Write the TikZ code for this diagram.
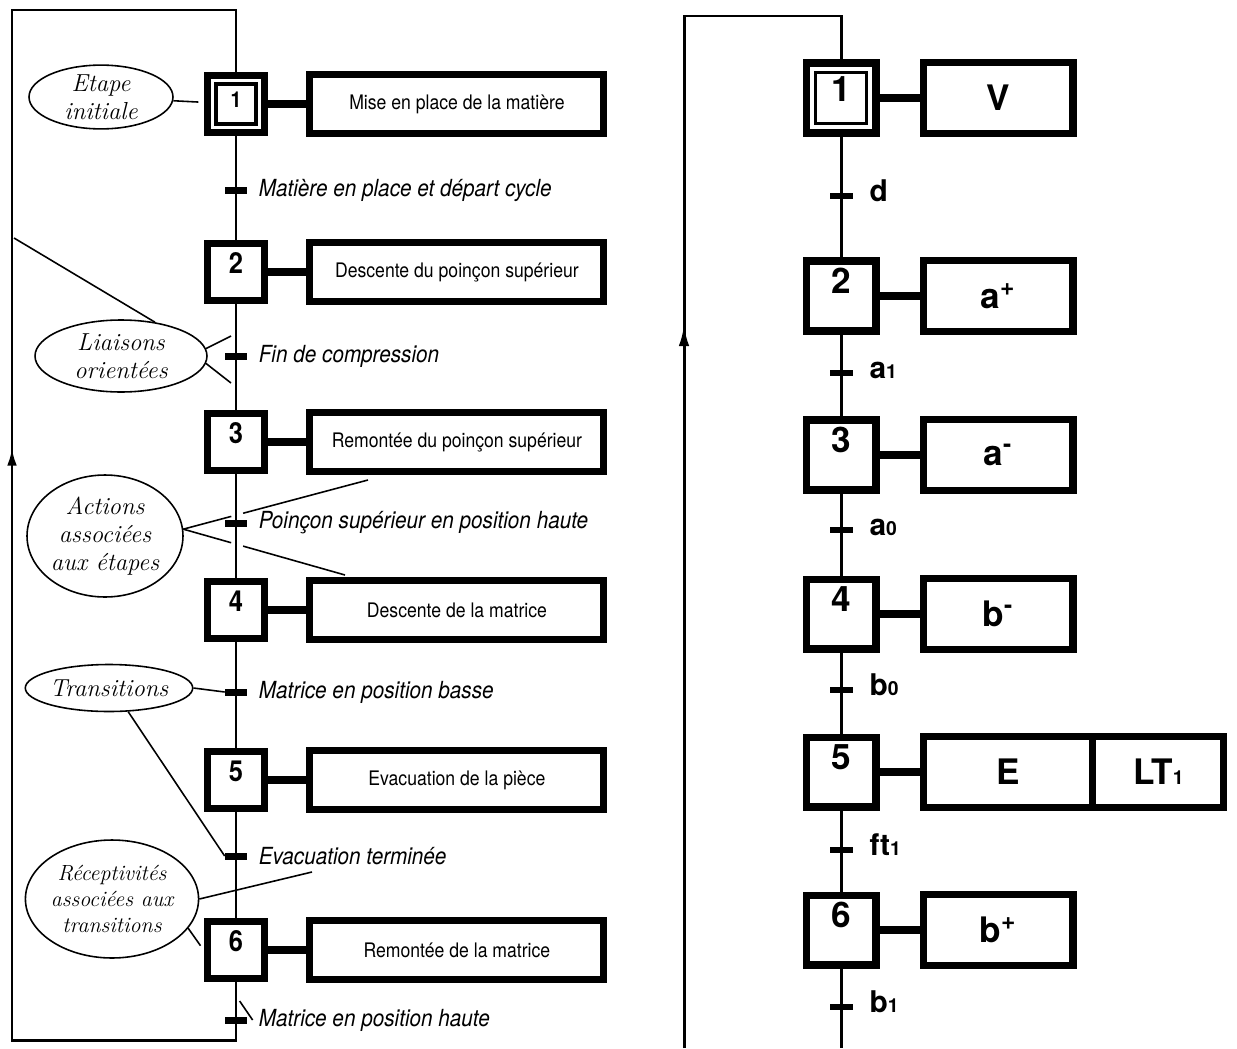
\documentclass[tikz,border=0pt]{standalone}
\usepackage{fontspec}
\newfontfamily\herosFont{TeX Gyre Heros}
\newfontfamily\condFont[FakeStretch=0.88]{TeX Gyre Heros}
\usetikzlibrary{shapes.geometric, arrows.meta, positioning, calc}
\newcommand{\idx}[1]{{\fontsize{11}{11}\selectfont #1}}

\begin{document}
\begin{tikzpicture}[
    x=0.02cm, y=-0.02cm,
    linkLine/.style={line width=1.7pt},
    stepLink/.style={line width=4pt},
    noteLine/.style={line width=0.9pt},
    stepBox/.style={draw, fill=white, line width=4.5pt, minimum width=1.14cm, minimum height=1.14cm, inner sep=2pt, text height=0.4cm, text depth=0.34cm, font=\condFont\bfseries\fontsize{16.5}{16.5}\selectfont},
    initInner/.style={draw, line width=2.8pt, minimum width=0.8cm, minimum height=0.8cm, inner sep=0pt},
    actionBox/.style={draw, fill=white, line width=4pt, minimum width=5.88cm, minimum height=1.18cm, align=center, font=\condFont\fontsize{11.4}{13}\selectfont},
    tickMark/.style={fill, rectangle, minimum width=0.44cm, minimum height=0.14cm, inner sep=0pt},
    recLabel/.style={anchor=west, font=\condFont\itshape\fontsize{13.4}{15}\selectfont},
    noteEllipse/.style={draw, ellipse, line width=0.9pt, inner sep=0pt, align=center, font=\itshape\fontsize{14}{16}\selectfont},
    rStepBox/.style={draw, fill=white, line width=4pt, minimum width=1.4cm, minimum height=1.4cm, inner sep=2pt, text height=0.5cm, text depth=0.6cm, font=\herosFont\bfseries\fontsize{20}{20}\selectfont},
    rInitInner/.style={draw, line width=1.7pt, minimum width=1.02cm, minimum height=1.02cm, inner sep=0pt},
    rActionBox/.style={draw, fill=white, line width=4pt, minimum width=3cm, minimum height=1.42cm, font=\herosFont\bfseries\fontsize{20}{22}\selectfont},
    rTickMark/.style={fill, rectangle, minimum width=0.46cm, minimum height=0.11cm, inner sep=0pt},
    rVarLabel/.style={anchor=west, text height=0.2cm, text depth=0pt, font=\herosFont\bfseries\fontsize{17}{17}\selectfont}
]
\useasboundingbox (0,0) rectangle (1237,1048);

% ---------- Left: literal GRAFCET ----------
% Steps and actions
\node[stepBox, text height=0.3cm, text depth=0.18cm, font=\condFont\bfseries\fontsize{12.5}{12.5}\selectfont] (s1) at (236,104) {1};
\node[initInner] (s1in) at (s1) {};
\node[actionBox, right=0.76cm of s1] (a1) {Mise en place de la matière};
\node[stepBox] (s2) at (236,272) {2};
\node[actionBox, right=0.76cm of s2] (a2) {Descente du poinçon supérieur};
\node[stepBox] (s3) at (236,442) {3};
\node[actionBox, right=0.76cm of s3] (a3) {Remontée du poinçon supérieur};
\node[stepBox] (s4) at (236,610) {4};
\node[actionBox, right=0.76cm of s4] (a4) {Descente de la matrice};
\node[stepBox] (s5) at (236,780) {5};
\node[actionBox, right=0.76cm of s5] (a5) {Evacuation de la pièce};
\node[stepBox] (s6) at (236,950) {6};
\node[actionBox, right=0.76cm of s6] (a6) {Remontée de la matrice};

\draw[stepLink] (s1) -- (a1);
\draw[stepLink] (s2) -- (a2);
\draw[stepLink] (s3) -- (a3);
\draw[stepLink] (s4) -- (a4);
\draw[stepLink] (s5) -- (a5);
\draw[stepLink] (s6) -- (a6);

% Oriented links
\draw[linkLine] (s1) -- (s2);
\draw[linkLine] (s2) -- (s3);
\draw[linkLine] (s3) -- (s4);
\draw[linkLine] (s4) -- (s5);
\draw[linkLine] (s5) -- (s6);
\coordinate (loopTL) at (12,10);
\coordinate (loopBL) at (12,1040);
\coordinate (loopArrow) at (12,448);
\draw[linkLine] (s1.north) |- (loopTL) -- (loopBL) -| (s6.south);
\draw[linkLine, -{Latex[length=10pt, width=5.5pt]}] (loopBL) -- (loopArrow);

% Transitions and receptivities
\node[tickMark] (t1) at (236,190) {};
\node[recLabel, right=3pt of t1] (lab1) {Matière en place et départ cycle};
\node[tickMark] (t2) at (236,356) {};
\node[recLabel, right=3pt of t2] (lab2) {Fin de compression};
\node[tickMark] (t3) at (236,523) {};
\node[recLabel, right=3pt of t3] (lab3) {Poinçon supérieur en position haute};
\node[tickMark] (t4) at (236,692) {};
\node[recLabel, right=3pt of t4] (lab4) {Matrice en position basse};
\node[tickMark] (t5) at (236,856) {};
\node[recLabel, right=3pt of t5] (lab5) {Evacuation terminée};
\node[tickMark] (t6) at (236,1020) {};
\node[recLabel, right=3pt of t6] (lab6) {Matrice en position haute};

% Hand-written notes
\node[noteEllipse, minimum width=2.88cm, minimum height=1.1cm] (eInit) at (101,97) {Etape\\initiale};
\node[noteEllipse, minimum width=3.44cm, minimum height=1.44cm] (eLink) at (121,356) {Liaisons\\orientées};
\node[noteEllipse, minimum width=3.12cm, minimum height=2.44cm] (eAct) at (105,536) {Actions\\associées\\aux étapes};
\node[noteEllipse, minimum width=3.04cm, minimum height=0.94cm] (eTrans) at (109,688) {Transitions};
\node[noteEllipse, minimum width=3.14cm, minimum height=2.36cm, font=\itshape\fontsize{12.5}{15}\selectfont] (eRecep) at (112,899) {Réceptivités\\associées aux\\transitions};

\coordinate (lkUp) at (231,336);
\coordinate (lkDown) at (231,383);
\coordinate (lkLoop) at (14,238);
\coordinate (actUp) at (368,480);
\coordinate (actDown) at (345,575);
\coordinate (recTip) at (312,872);

\draw[noteLine, shorten >=3pt] (eInit) -- (s1);
\draw[noteLine] (eLink.5) -- (lkUp);
\draw[noteLine] (eLink.-5) -- (lkDown);
\draw[noteLine] (eLink.45) -- (lkLoop);
\draw[noteLine] (eAct.5) -- ($(eAct.5)!0.26!(actUp)$) ($(eAct.5)!0.324!(actUp)$) -- (actUp);
\draw[noteLine] (eAct.5) -- ($(eAct.5)!0.296!(actDown)$) ($(eAct.5)!0.37!(actDown)$) -- (actDown);
\draw[noteLine] (eTrans.east) -- (t4.west);
\draw[noteLine] (eTrans.-51) -- (t5.west);
\draw[noteLine] (eRecep.east) -- (recTip);
\draw[noteLine, shorten >=3pt] (eRecep.-21) -- (s6.west);
\draw[noteLine] (lab6.west) -- ++(-13,-19);

% ---------- Right: coded GRAFCET ----------
\node[rStepBox, text depth=0.36cm] (r1) at (841,98) {1};
\node[rInitInner] (r1in) at (r1) {};
\node[rActionBox, right=0.8cm of r1] (ra1) {V};
\node[rStepBox] (r2) at (841,296) {2};
\node[rActionBox, right=0.8cm of r2] (ra2) {a\textsuperscript{+}};
\node[rStepBox] (r3) at (841,455) {3};
\node[rActionBox, right=0.8cm of r3] (ra3) {a\textsuperscript{-}};
\node[rStepBox] (r4) at (841,614) {4};
\node[rActionBox, right=0.8cm of r4] (ra4) {b\textsuperscript{-}};
\node[rStepBox] (r5) at (841,772) {5};
\node[rActionBox, minimum width=3.4cm, right=0.8cm of r5] (ra5) {E};
\node[rActionBox, minimum width=2.62cm, right=-0.141cm of ra5] (ra5b) {LT\idx{1}};
\node[rStepBox] (r6) at (841,930) {6};
\node[rActionBox, right=0.8cm of r6] (ra6) {b\textsuperscript{+}};

\draw[stepLink] (r1) -- (ra1);
\draw[stepLink] (r2) -- (ra2);
\draw[stepLink] (r3) -- (ra3);
\draw[stepLink] (r4) -- (ra4);
\draw[stepLink] (r5) -- (ra5);
\draw[stepLink] (r6) -- (ra6);

\draw[linkLine] (r1) -- (r2);
\draw[linkLine] (r2) -- (r3);
\draw[linkLine] (r3) -- (r4);
\draw[linkLine] (r4) -- (r5);
\draw[linkLine] (r5) -- (r6);
\coordinate (rLoopTL) at (684,16);
\coordinate (rLoopBL) at (684,1048);
\coordinate (rLoopArrow) at (684,325);
\coordinate (rBottom) at (841,1048);
\draw[linkLine] (r6.south) -- (rBottom);
\draw[linkLine] (r1.north) |- (rLoopTL) -- (rLoopBL);
\draw[linkLine, -{Latex[length=12pt, width=6pt]}] (rLoopBL) -- (rLoopArrow);

\node[rTickMark] (rt1) at (841,196) {};
\node[rVarLabel, right=6pt of rt1] (rv1) {d};
\node[rTickMark] (rt2) at (841,373) {};
\node[rVarLabel, right=6pt of rt2] (rv2) {a\idx{1}};
\node[rTickMark] (rt3) at (841,530) {};
\node[rVarLabel, right=6pt of rt3] (rv3) {a\idx{0}};
\node[rTickMark] (rt4) at (841,690) {};
\node[rVarLabel, right=6pt of rt4] (rv4) {b\idx{0}};
\node[rTickMark] (rt5) at (841,850) {};
\node[rVarLabel, right=6pt of rt5] (rv5) {ft\idx{1}};
\node[rTickMark] (rt6) at (841,1007) {};
\node[rVarLabel, right=6pt of rt6] (rv6) {b\idx{1}};

\end{tikzpicture}
\end{document}
